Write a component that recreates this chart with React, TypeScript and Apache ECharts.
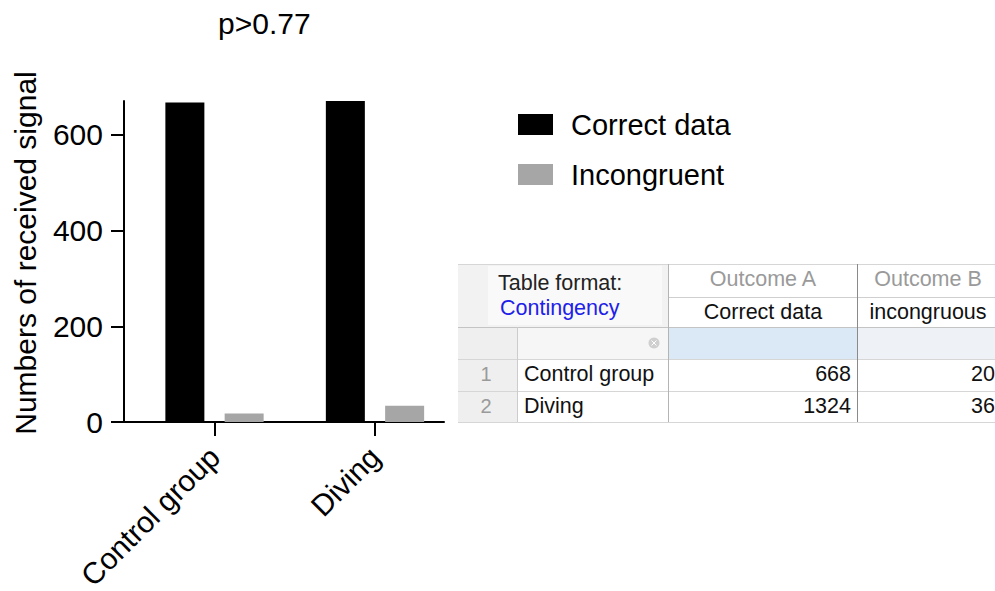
import React, { useEffect, useRef } from "react";
import * as echarts from "echarts";

const categories = ["Control group", "Diving"];
const correctData = [668, 671];
const incongruentData = [18, 34];
const yTicks = [0, 200, 400, 600];
const legendNames = ["Correct data", "Incongruent"];
const yAxisName = "Numbers of received signal";
const pText = "p>0.77";

const tableFormatLabel = "Table format:";
const tableFormatValue = "Contingency";
const tableGroups = ["Outcome A", "Outcome B"];
const tableColumns = ["Correct data", "incongruous"];
const tableRowNumbers = ["1", "2"];
const tableRowLabels = ["Control group", "Diving"];
const tableOutcomeA = [668, 1324];
const tableOutcomeB = [20, 36];

const FONT = '"Liberation Sans", Arial, sans-serif';

function buildTable(): any[] {
  const x0 = 458, xNum = 517, xA = 668, xB = 857, xEnd = 995;
  const y0 = 264, y1 = 297, y2 = 327, y3 = 359, y4 = 391, y5 = 422;
  const rowYs = [[y3, y4], [y4, y5]];
  const els: any[] = [];
  const rect = (x: number, y: number, w: number, h: number, fill: string) =>
    els.push({ type: "rect", shape: { x, y, width: w, height: h }, style: { fill }, silent: true });
  const line = (x1: number, yA: number, x2: number, yB: number, stroke: string) =>
    els.push({ type: "line", shape: { x1, y1: yA, x2, y2: yB }, style: { stroke, lineWidth: 1 }, silent: true });
  const text = (t: string, x: number, y: number, align: string, fill: string, size = 21.5) =>
    els.push({
      type: "text",
      x,
      y,
      silent: true,
      style: {
        text: t,
        fill,
        fontSize: size,
        fontFamily: FONT,
        textAlign: align,
        align,
        textVerticalAlign: "middle",
        verticalAlign: "middle",
      },
    });

  rect(x0, y0, xEnd - x0, y5 - y0, "#ffffff");
  rect(x0, y0, xA - x0, y2 - y0, "#f2f2f2");
  rect(488, y0 + 2, xA - 494, y2 - y0 - 4, "#f9f9f9");
  rect(x0, y2, xNum - x0, y5 - y2, "#efefef");
  rect(xNum, y2, xA - xNum, y3 - y2, "#f6f6f6");
  rect(xA, y2, xB - xA, y3 - y2, "#dbe9f7");
  rect(xB, y2, xEnd - xB, y3 - y2, "#eef2f6");

  line(x0, y0 + 0.5, xEnd, y0 + 0.5, "#d6d6d6");
  line(xA, y1 + 0.5, xEnd, y1 + 0.5, "#cfcfcf");
  line(x0, y2 + 0.5, xEnd, y2 + 0.5, "#c4c4c4");
  line(x0, y3 + 0.5, xEnd, y3 + 0.5, "#d6d6d6");
  line(x0, y4 + 0.5, xEnd, y4 + 0.5, "#d6d6d6");
  line(x0, y5 + 0.5, xEnd, y5 + 0.5, "#d6d6d6");
  line(xNum + 0.5, y2, xNum + 0.5, y5, "#cccccc");
  line(xA + 0.5, y0, xA + 0.5, y5, "#b4b4b4");
  line(xB + 0.5, y0, xB + 0.5, y5, "#8a8a8a");

  text(tableFormatLabel, 498, 283, "left", "#222222");
  text(tableFormatValue, 500, 308, "left", "#2020e8");
  const colCenters = [763, 928];
  tableGroups.forEach((g, i) => text(g, colCenters[i], 279, "center", "#9a9a9a"));
  tableColumns.forEach((c, i) => text(c, colCenters[i], 312, "center", "#111111"));

  // clear-filter icon
  els.push({ type: "circle", shape: { cx: 654, cy: 343, r: 5.5 }, style: { fill: "#cfcfcf" }, silent: true });
  line(651.5, 340.5, 656.5, 345.5, "#ffffff");
  line(656.5, 340.5, 651.5, 345.5, "#ffffff");

  tableRowLabels.forEach((lab, i) => {
    const cy = (rowYs[i][0] + rowYs[i][1]) / 2 - 1;
    text(tableRowNumbers[i], 486, cy, "center", "#9a9a9a", 20);
    text(lab, 524, cy, "left", "#111111");
    text(String(tableOutcomeA[i]), 851, cy, "right", "#111111");
    text(String(tableOutcomeB[i]), 995, cy, "right", "#111111");
  });
  return els;
}

export default function App() {
  const ref = useRef<HTMLDivElement>(null);
  useEffect(() => {
    if (!ref.current) return;
    const chart = echarts.init(ref.current, undefined, { renderer: "svg" });
    const axisColor = "#000000";
    chart.setOption({
      animation: false,
      backgroundColor: "#ffffff",
      textStyle: { fontFamily: FONT },
      title: {
        text: pText,
        left: 218,
        top: 8,
        padding: 0,
        textStyle: { fontSize: 30, fontWeight: "normal", color: "#000", fontFamily: FONT },
      },
      legend: {
        orient: "vertical",
        left: 518,
        top: 110,
        padding: 0,
        itemWidth: 35,
        itemHeight: 21,
        itemGap: 21,
        icon: "rect",
        data: legendNames,
        textStyle: { fontSize: 29, color: "#000", fontFamily: FONT, padding: [0, 0, 0, 13] },
      },
      grid: {
        left: 124,
        top: 101,
        width: 320,
        height: 321,
        containLabel: false,
        outerBoundsMode: "none",
      },
      xAxis: {
        type: "value",
        min: -0.564,
        max: 1.43,
        splitLine: { show: false },
        axisLine: { show: true, onZero: true, lineStyle: { color: axisColor, width: 2 } },
        axisTick: { show: true, customValues: [0, 1], length: 14, lineStyle: { color: axisColor, width: 2 } },
        axisLabel: {
          customValues: [0, 1],
          formatter: (v: number) => categories[Math.round(v)] ?? "",
          rotate: 45,
          margin: 30,
          fontSize: 30,
          color: "#000",
          fontFamily: FONT,
        },
      },
      yAxis: {
        type: "value",
        min: 0,
        max: "dataMax",
        name: yAxisName,
        nameLocation: "middle",
        nameGap: 84,
        nameMoveOverlap: false,
        nameTextStyle: { fontSize: 30, color: "#000", fontFamily: FONT, padding: [0, 0, 0, 17] },
        splitLine: { show: false },
        axisLine: { show: true, onZero: false, lineStyle: { color: axisColor, width: 2 } },
        axisTick: { show: true, customValues: yTicks, length: 13, lineStyle: { color: axisColor, width: 2 } },
        axisLabel: {
          customValues: yTicks,
          margin: 21,
          fontSize: 30,
          color: "#000",
          fontFamily: FONT,
        },
      },
      series: [
        {
          name: legendNames[0],
          type: "bar",
          data: categories.map((_, i) => [i, correctData[i]]),
          barWidth: 39,
          barGap: "52%",
          itemStyle: { color: "#000000" },
        },
        {
          name: legendNames[1],
          type: "bar",
          data: categories.map((_, i) => [i, incongruentData[i]]),
          barWidth: 39,
          barGap: "52%",
          itemStyle: { color: "#a6a6a6" },
        },
      ],
      graphic: buildTable(),
    });
    return () => chart.dispose();
  }, []);
  return (
    <div
      ref={ref}
      style={{ position: "fixed", left: 0, top: 0, width: 995, height: 591, background: "#fff" }}
    />
  );
}
